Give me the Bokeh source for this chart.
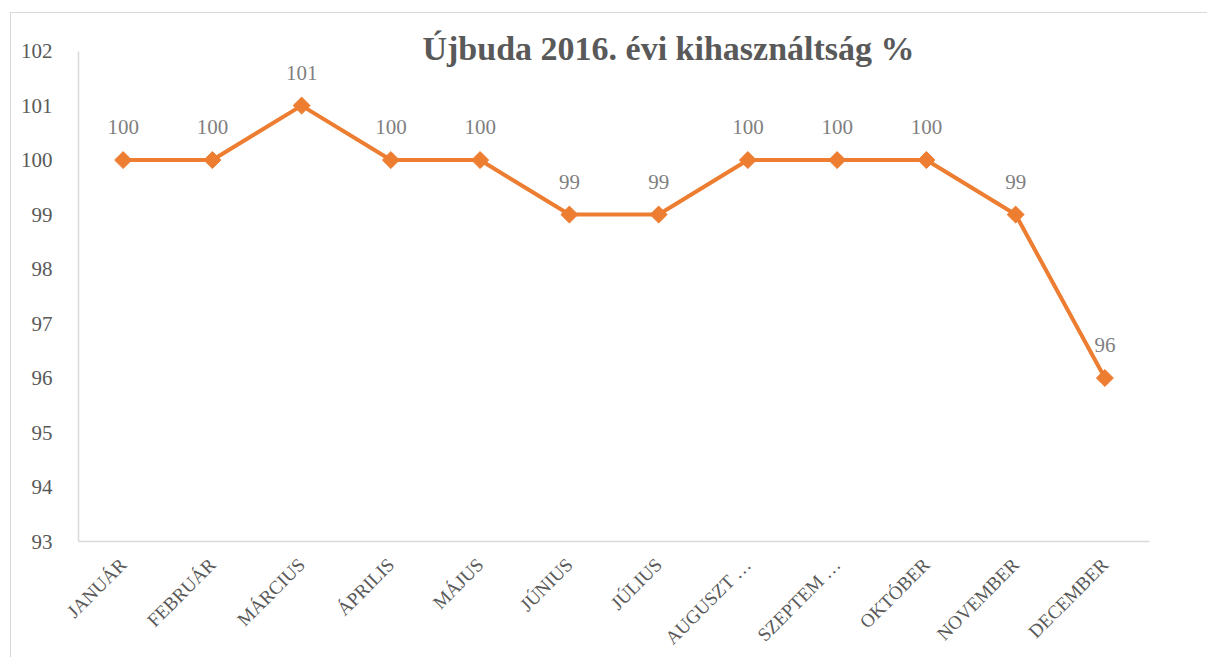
import math
from bokeh.plotting import figure
from bokeh.models import Range1d, FactorRange, FixedTicker, Label
from bokeh.core.properties import value
from bokeh.embed import file_html
from bokeh.resources import INLINE

months = ["JANUÁR", "FEBRUÁR", "MÁRCIUS", "ÁPRILIS", "MÁJUS", "JÚNIUS",
          "JÚLIUS", "AUGUSZT …", "SZEPTEM …", "OKTÓBER", "NOVEMBER", "DECEMBER"]
values = [100, 100, 101, 100, 100, 99, 99, 100, 100, 100, 99, 96]
y_ticks = [93, 94, 95, 96, 97, 98, 99, 100, 101, 102]
y_axis_bounds = (93, 102)
title_text = "Újbuda 2016. évi kihasználtság %"

FONT = "Liberation Serif"
ORANGE = "#ED7D31"

# frame extends to the top of the canvas so the title is not clipped;
# the y axis line itself is bounded to 93..102
p = figure(x_range=FactorRange(factors=months), y_range=Range1d(93, 102.69),
           width=1197, height=645, output_backend="svg", toolbar_location=None,
           min_border_left=67, min_border_top=0, min_border_right=59,
           min_border_bottom=117, margin=(12, 0, 0, 10))
p.styles = {"border-top": "1px solid #d9d9d9", "border-left": "1px solid #d9d9d9"}
p.outline_line_color = None
p.background_fill_color = "white"
p.border_fill_color = "white"
p.xgrid.grid_line_color = None
p.ygrid.grid_line_color = None

p.yaxis.ticker = FixedTicker(ticks=y_ticks)
p.yaxis.bounds = y_axis_bounds
p.yaxis.axis_line_color = "#d9d9d9"
p.yaxis.axis_line_width = 1.5
p.yaxis.major_tick_line_color = None
p.yaxis.minor_tick_line_color = None
p.yaxis.major_label_text_font = FONT
p.yaxis.major_label_text_font_size = "21px"
p.yaxis.major_label_text_color = "#595959"
p.yaxis.major_label_standoff = 20

p.xaxis.axis_line_color = "#d9d9d9"
p.xaxis.axis_line_width = 1.5
p.xaxis.major_tick_line_color = None
p.xaxis.minor_tick_line_color = None
p.xaxis.major_label_text_font = FONT
p.xaxis.major_label_text_font_size = "19px"
p.xaxis.major_label_text_color = "#595959"
p.xaxis.major_label_orientation = math.pi / 4
p.xaxis.major_label_standoff = 14

p.line(months, values, line_color=ORANGE, line_width=4)
p.scatter(months, values, marker="square", angle=math.pi / 4, size=12,
          fill_color=ORANGE, line_color=ORANGE)
p.text(months, values, text=[str(v) for v in values], text_font=value(FONT),
       text_font_size="21px", text_color="#7f7f7f", text_align="center",
       text_baseline="middle", y_offset=-33)

title = Label(x=590, y=493, x_units="screen", y_units="screen", text=title_text,
              text_font=FONT, text_font_size="34px", text_font_style="bold",
              text_color="#595959", text_align="center", text_baseline="alphabetic")
p.add_layout(title)

open("out.html", "w").write(file_html(p, INLINE))
